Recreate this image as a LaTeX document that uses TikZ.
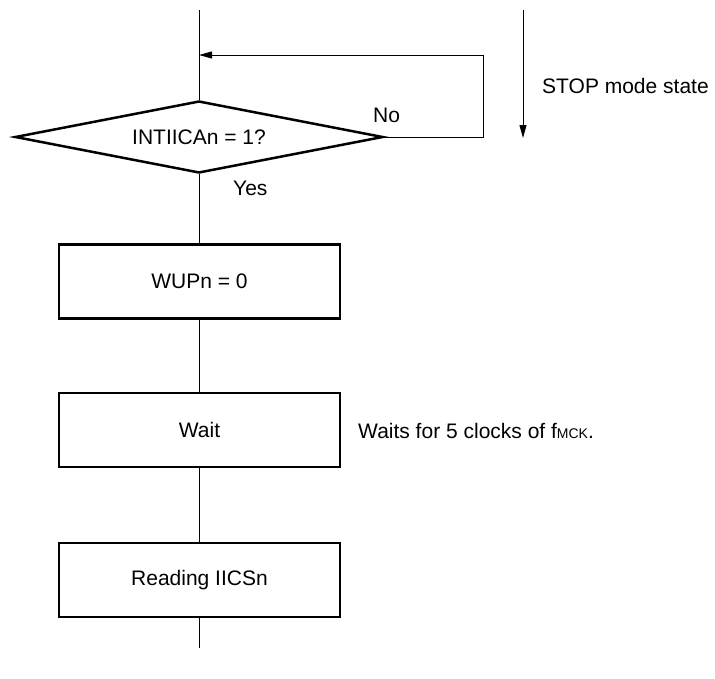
\documentclass[tikz,border=0pt]{standalone}
\usepackage{fontspec}
\setmainfont{Liberation Sans}
\usetikzlibrary{shapes.geometric,arrows.meta}
\begin{document}
\begin{tikzpicture}[x=1pt,y=-1pt,
  every node/.style={font=\fontsize{21}{24}\selectfont},
  procbox/.style={draw,line width=2.5pt,minimum width=281pt,minimum height=74pt,inner sep=0pt},
  decision/.style={draw,line width=2.5pt,shape=diamond,aspect=5,minimum width=368pt,minimum height=72pt,inner sep=0pt},
  flow/.style={line width=1pt},
  tip/.style={-{Triangle[length=13pt,width=7pt]}},
  lbl/.style={inner sep=0pt}]
\useasboundingbox (0,0) rectangle (715,678);
\coordinate (top) at (199,10);
\node[decision] (dec) at (199,137) {INTIICAn = 1?};
\node[procbox] (wup) at (199.5,281.5) {WUPn = 0};
\node[procbox] (wait) at (199.5,430) {Wait};
\node[procbox] (read) at (199.5,580) {Reading IICSn};
\coordinate (bot) at (199,648);
\coordinate (loopR) at (483,137);
\coordinate (loopT) at (483,55);
\coordinate (loopL) at (199,55);
\draw[flow] (top) -- (dec.north);
\draw[flow] (dec.south) -- (wup.north -| dec.south);
\draw[flow] (wup.south -| dec.south) -- (wait.north -| dec.south);
\draw[flow] (wait.south -| dec.south) -- (read.north -| dec.south);
\draw[flow] (read.south -| dec.south) -- (bot);
\draw[flow,tip] (dec.east) -- (loopR) -- (loopT) -- (loopL);
\node[lbl,anchor=base west] (no) at (373,122) {No};
\node[lbl,anchor=base west] (yes) at (233,195) {Yes};
\coordinate (stopA) at (523,10);
\coordinate (stopB) at (523,138);
\draw[flow,tip] (stopA) -- (stopB);
\node[lbl,anchor=base west] (stop) at (542,93) {STOP mode state};
\node[lbl,anchor=base west] (waits) at (358,438) {Waits for 5 clocks of f{\fontsize{14}{14}\selectfont MCK}.};
\end{tikzpicture}
\end{document}
